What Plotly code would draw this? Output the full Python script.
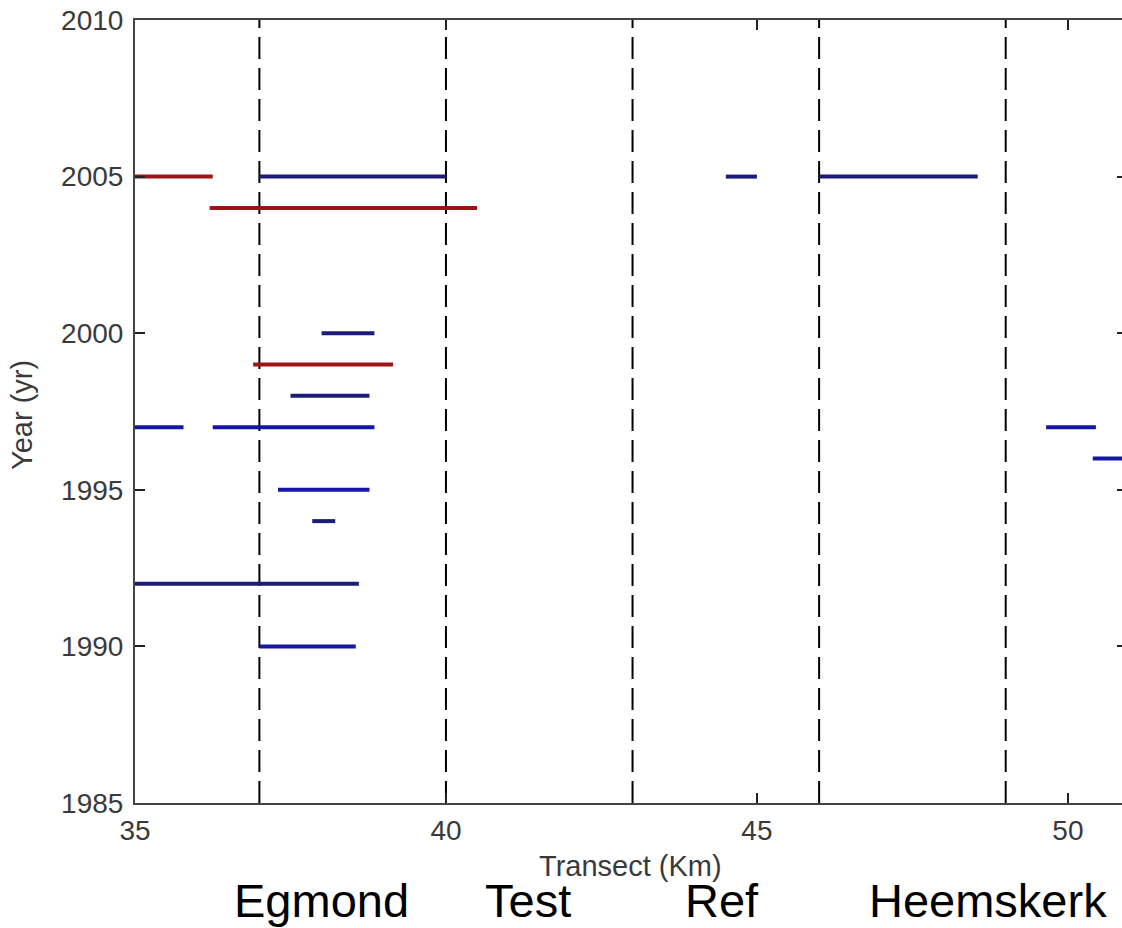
import plotly.graph_objects as go

# ---- data ----
years  = [2005, 2005, 2005, 2005, 2004, 2000, 1999, 1998, 1997, 1997, 1997, 1996, 1995, 1994, 1992, 1990]
starts = [35.0, 37.0, 44.5, 46.0, 36.2, 38.0, 36.9, 37.5, 35.0, 36.25, 49.65, 50.4, 37.3, 37.85, 35.0, 37.0]
ends   = [36.25, 40.0, 45.0, 48.55, 40.5, 38.85, 39.15, 38.77, 35.78, 38.85, 50.45, 51.2, 38.77, 38.22, 38.6, 38.55]
groups = ["red", "navy", "navy", "navy", "red", "navy", "red", "navy", "blue", "blue", "blue", "blue", "blue", "navy", "navy", "blue"]

boundaries = [37, 40, 43, 46, 49]
section_names = ["Egmond", "Test", "Ref", "Heemskerk"]
section_px = [321, 528, 722, 988]

x_ticks = [35, 40, 45, 50]
y_ticks = [1985, 1990, 1995, 2000, 2005, 2010]

colors = {"red": "#9c1418", "navy": "#1c1c78", "blue": "#1616a6"}

W, H = 1122, 928
L, R, T, B = 135, 0, 20, 125

fig = go.Figure()
for g in ["red", "navy", "blue"]:
    xs, ys = [], []
    for y, a, b, gg in zip(years, starts, ends, groups):
        if gg == g:
            xs += [a, b, None]
            ys += [y, y, None]
    fig.add_trace(go.Scatter(x=xs, y=ys, mode="lines",
                             line=dict(color=colors[g], width=4),
                             showlegend=False, hoverinfo="skip"))

# invisible trace for right-side ticks axis
fig.add_trace(go.Scatter(x=[35], y=[1985], yaxis="y2", mode="markers",
                         marker=dict(opacity=0), showlegend=False, hoverinfo="skip"))

for b in boundaries:
    fig.add_shape(type="line", x0=b, x1=b, y0=0, y1=1, xref="x", yref="paper",
                  line=dict(color="black", width=2, dash="22px,9px"), layer="below")

tickfont = dict(family="Liberation Sans", size=28, color="#3a3a3a")

fig.update_layout(
    width=W, height=H,
    margin=dict(l=L, r=R, t=T, b=B, pad=0),
    paper_bgcolor="white", plot_bgcolor="white",
    xaxis=dict(range=[35, 50.87], tickvals=x_ticks, ticks="inside", ticklen=10,
               tickcolor="#222", tickwidth=1.5, showline=True, linecolor="#444",
               linewidth=2, mirror="ticks", showgrid=False, zeroline=False,
               tickfont=tickfont, ticklabelstandoff=1),
    yaxis=dict(range=[1985, 2010], tickvals=y_ticks, ticks="inside", ticklen=10,
               tickcolor="#222", tickwidth=1.5, showline=True, linecolor="#444",
               linewidth=2, mirror=False, showgrid=False, zeroline=False,
               tickfont=tickfont, ticklabelstandoff=4),
    yaxis2=dict(range=[1985, 2010], tickvals=y_ticks, ticks="inside", ticklen=5,
                tickcolor="#222", tickwidth=1.5, showline=False, overlaying="y",
                side="right", showticklabels=False, showgrid=False, zeroline=False),
)

plot_w = W - L - R
plot_h = H - T - B

def px2paper_x(px):
    return (px - L) / plot_w

def py2paper_y(py):
    return (H - B - py) / plot_h

# axis titles
fig.add_annotation(text="Transect (Km)", x=px2paper_x(630), y=py2paper_y(866),
                   xref="paper", yref="paper", showarrow=False,
                   font=dict(family="Liberation Sans", size=29, color="#3a3a3a"),
                   xanchor="center", yanchor="middle")
fig.add_annotation(text="Year (yr)", x=px2paper_x(22), y=py2paper_y(415),
                   xref="paper", yref="paper", showarrow=False, textangle=-90,
                   font=dict(family="Liberation Sans", size=29, color="#3a3a3a"),
                   xanchor="center", yanchor="middle")

for name, px in zip(section_names, section_px):
    fig.add_annotation(text=name, x=px2paper_x(px), y=py2paper_y(900),
                       xref="paper", yref="paper", showarrow=False,
                       font=dict(family="Liberation Sans", size=47, color="black"),
                       xanchor="center", yanchor="middle")

fig.write_html("out.html")
